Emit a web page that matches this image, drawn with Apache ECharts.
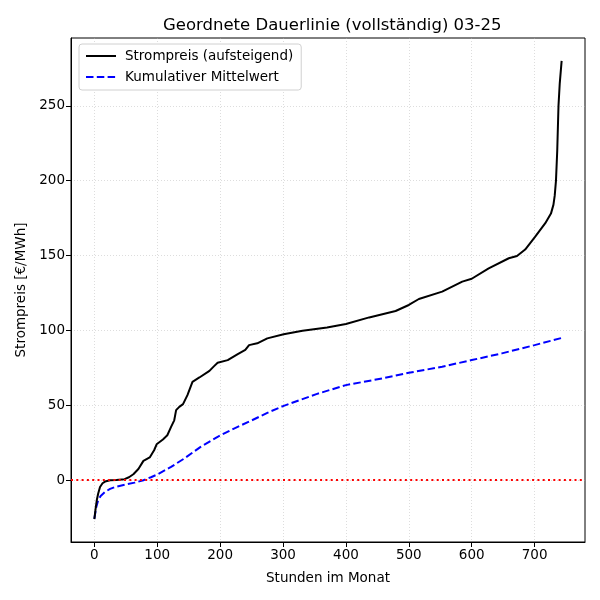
<!DOCTYPE html>
<html>
<head>
<meta charset="utf-8">
<script src="https://cdn.jsdelivr.net/npm/echarts@6/dist/echarts.min.js"></script>
<style>
html,body{margin:0;padding:0;background:#fff;}
#main{width:600px;height:600px;}
</style>
</head>
<body>
<div id="main"></div>
<script>
// Strompreis sortiert (Stunde -> €/MWh)
var priceHours = [0,2,4,6,9,13,17,25,35,48,55,62,70,78,88,95,99,109,116,122,127,130,135,141,148,156,167,183,190,196,212,228,240,246,259,275,301,331,370,400,437,479,500,516,553,585,600,627,659,672,685,701,717,726,730,732,734,736,738,740,743];
var priceValues = [-26,-19,-13,-9,-4.5,-2,-0.9,0,0.2,0.7,2,4,7.5,12.9,15.2,20,24,27.2,30,35.6,40,46.8,49,50.8,56.8,65.7,68.6,73,76,78.4,80.2,84.2,87,90.2,91.4,94.7,97.4,99.8,102,104.3,108.7,113,117,121,125.9,132.6,134.5,141.5,148.2,149.7,154,162.6,171.6,178,184,190,200,220,250,265,280];

// kumulativer Mittelwert
var meanHours = [0,3,6,10,17,25,33,50,64,78,90,101,122,143,169,196,222,249,275,300,353,400,458,500,553,600,648,700,743];
var meanValues = [-25.6,-18,-13.4,-10.5,-7.8,-5.8,-4.5,-2.8,-1.6,0,2,4,8.9,14.5,22.3,29,34.5,39.7,45,49.5,57.5,63.5,68,71.7,75.8,80.2,84.7,90.2,95];

var xTicks = [0,100,200,300,400,500,600,700];
var yTicks = [0,50,100,150,200,250];

function pairs(xs,ys){
	var out=[];
	for(var i=0;i<xs.length;i++){
		out.push([xs[i],ys[i]]);
	}
	return out;
}

var font='DejaVu Sans';
var gridLine={show:true,lineStyle:{color:'rgba(176,176,176,0.55)',width:0.8,type:[1,2]}};

var myChart=echarts.init(document.getElementById('main'));
var options={
	animation:false,
	textStyle:{fontFamily:font},
	title:{
		text:'Geordnete Dauerlinie (vollständig) 03-25',
		left:158,
		top:12,
		textStyle:{fontFamily:font,fontSize:16.5,fontWeight:'normal',color:'#000'}
	},
	legend:{
		orient:'vertical',
		left:79,
		top:44,
		padding:[5,8,6,6],
		itemGap:7,
		itemWidth:30,
		itemHeight:14,
		backgroundColor:'#fff',
		borderColor:'#d0d0d0',
		borderWidth:1,
		borderRadius:3,
		textStyle:{fontFamily:font,fontSize:13.5,color:'#000',padding:[0,0,0,4]},
		data:[
			{name:'Strompreis (aufsteigend)',itemStyle:{opacity:0}},
			{name:'Kumulativer Mittelwert',itemStyle:{opacity:0}}
		]
	},
	grid:{
		left:71,
		right:15,
		top:38,
		bottom:58,
		show:true,
		borderColor:'#000',
		borderWidth:1,
		backgroundColor:'transparent'
	},
	xAxis:{
		type:'value',
		min:-37.15,
		max:780.15,
		name:'Stunden im Monat',
		nameLocation:'middle',
		nameGap:29,
		nameTextStyle:{fontFamily:font,fontSize:13.5,color:'#000'},
		axisLine:{show:true,onZero:false,lineStyle:{color:'#000',width:1}},
		axisTick:{show:true,length:5,lineStyle:{color:'#000'},customValues:xTicks},
		axisLabel:{fontFamily:font,fontSize:13.5,color:'#000',margin:6,customValues:xTicks},
		splitLine:gridLine
	},
	yAxis:{
		type:'value',
		min:-41.25,
		max:295.25,
		name:'Strompreis [€/MWh]',
		nameLocation:'middle',
		nameGap:43,
		nameTextStyle:{fontFamily:font,fontSize:13.5,color:'#000'},
		axisLine:{show:true,onZero:false,lineStyle:{color:'#000',width:1}},
		axisTick:{show:true,length:5,lineStyle:{color:'#000'},customValues:yTicks},
		axisLabel:{fontFamily:font,fontSize:13.5,color:'#000',margin:6,customValues:yTicks},
		splitLine:gridLine
	},
	series:[
		{
			name:'Strompreis (aufsteigend)',
			type:'line',
			data:pairs(priceHours,priceValues),
			showSymbol:false,
			symbol:'none',
			lineStyle:{color:'#000',width:2},
			itemStyle:{color:'#000'},
			z:3,
			markLine:{
				silent:true,
				symbol:'none',
				label:{show:false},
				lineStyle:{color:'#ff0000',width:2,type:[2,3.3]},
				data:[{yAxis:0}]
			}
		},
		{
			name:'Kumulativer Mittelwert',
			type:'line',
			data:pairs(meanHours,meanValues),
			showSymbol:false,
			symbol:'none',
			lineStyle:{color:'#0000ff',width:2,type:[7.5,3.3]},
			itemStyle:{color:'#0000ff'},
			z:2
		}
	]
};
myChart.setOption(options);
</script>
</body>
</html>
